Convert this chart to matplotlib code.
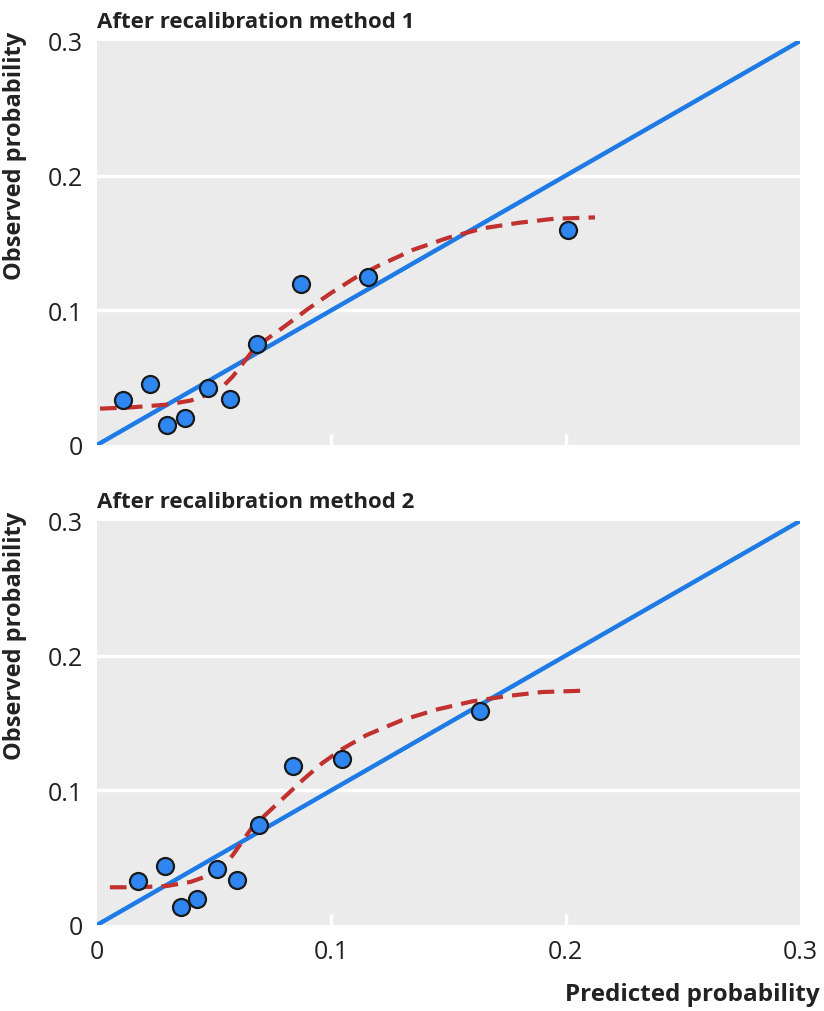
import matplotlib
matplotlib.use("Agg")
import matplotlib.pyplot as plt
import numpy as np

plt.rcParams['font.family'] = ['Open Sans', 'DejaVu Sans']

# panel 1 - after recalibration method 1
pred1 = [0.011, 0.0226, 0.030, 0.0376, 0.0474, 0.0568, 0.0683, 0.0871, 0.1157, 0.201]
obs1 = [0.0334, 0.0453, 0.0148, 0.0200, 0.0423, 0.0341, 0.0750, 0.1195, 0.1247, 0.160]
curve1_x = [0.0013, 0.015, 0.030, 0.040, 0.048, 0.054, 0.058, 0.062, 0.066, 0.072,
            0.080, 0.090, 0.100, 0.110, 0.120, 0.135, 0.150, 0.165, 0.180, 0.195, 0.2125]
curve1_y = [0.027, 0.028, 0.030, 0.033, 0.038, 0.044, 0.051, 0.060, 0.069, 0.078,
            0.088, 0.101, 0.113, 0.124, 0.133, 0.145, 0.154, 0.161, 0.165, 0.168, 0.169]

# panel 2 - after recalibration method 2
pred2 = [0.0175, 0.029, 0.0359, 0.0427, 0.0512, 0.0598, 0.0691, 0.0837, 0.1046, 0.1635]
obs2 = [0.0327, 0.0438, 0.0134, 0.0193, 0.0416, 0.0334, 0.0742, 0.118, 0.1232, 0.1589]
curve2_x = [0.0055, 0.018, 0.030, 0.040, 0.048, 0.054, 0.058, 0.062, 0.066, 0.072,
            0.080, 0.088, 0.096, 0.104, 0.115, 0.130, 0.145, 0.160, 0.175, 0.190, 0.208]
curve2_y = [0.028, 0.028, 0.029, 0.032, 0.037, 0.044, 0.052, 0.062, 0.072, 0.082,
            0.095, 0.108, 0.120, 0.130, 0.141, 0.152, 0.160, 0.166, 0.170, 0.173, 0.174]

titles = ["After recalibration method 1", "After recalibration method 2"]
ticks = [0, 0.1, 0.2, 0.3]
tick_labels = ["0", "0.1", "0.2", "0.3"]

fig = plt.figure(figsize=(8.24, 10.12), dpi=100)
ax1 = fig.add_axes([0.1177, 0.5593, 0.8532, 0.3992])
ax2 = fig.add_axes([0.1177, 0.0850, 0.8532, 0.3992])

panels = [(ax1, pred1, obs1, curve1_x, curve1_y),
          (ax2, pred2, obs2, curve2_x, curve2_y)]

for i, (ax, px, oy, cx, cy) in enumerate(panels):
    ax.set_facecolor('#ebebeb')
    for s in ax.spines.values():
        s.set_visible(False)
    ax.set_xlim(0, 0.3)
    ax.set_ylim(0, 0.3)
    for g in [0.1, 0.2]:
        ax.axhline(g, color='white', lw=2.5, zorder=1)
    ax.plot([0, 0.3], [0, 0.3], color='#1e7be6', lw=3.2, zorder=2, solid_capstyle='round')
    ax.plot(cx, cy, color='#c0312f', lw=3, ls=(0, (4, 2.2)), zorder=3)
    ax.scatter(px, oy, s=150, color='#2f86f0', edgecolors='#1a1a1a', linewidths=1.6, zorder=4)
    ax.set_yticks(ticks)
    ax.set_yticklabels(tick_labels, fontsize=18, color='#222222')
    ax.tick_params(axis='y', length=0, pad=10)
    ax.set_xticks(ticks)
    ax.tick_params(axis='x', direction='in', length=8, width=2.5, color='white', pad=10)
    xt = ax.xaxis.get_major_ticks()
    xt[0].tick1line.set_visible(False)
    xt[-1].tick1line.set_visible(False)
    if i == 0:
        ax.set_xticklabels([])
    else:
        ax.set_xticklabels(tick_labels, fontsize=18, color='#222222')
    # y label sits toward the top of each panel
    ax.text(-0.116, 1.025, "Observed probability", transform=ax.transAxes, rotation=90,
            fontsize=17, fontweight='bold', color='#222222', ha='center', va='top')
    ax.text(0, 1.035, titles[i], transform=ax.transAxes, fontsize=16, fontweight='bold',
            color='#222222', va='baseline', ha='left')

fig.text(0.995, 0.0168, "Predicted probability", fontsize=17.5, fontweight='bold',
         color='#222222', ha='right', va='center')

fig.savefig("out.png", dpi=100, facecolor='white')
